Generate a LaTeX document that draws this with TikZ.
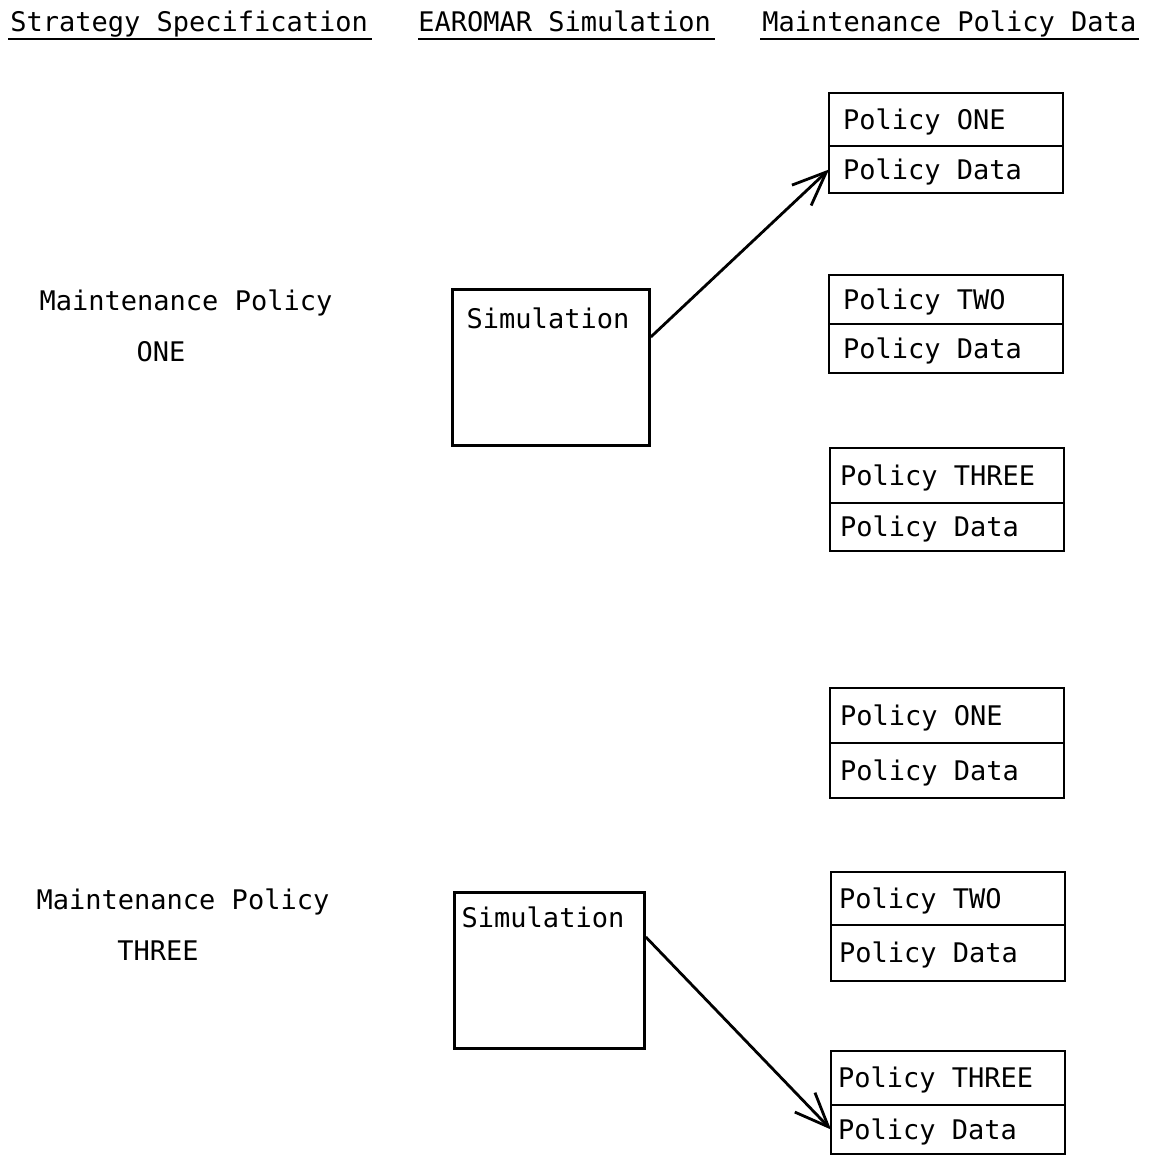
\documentclass[tikz,border=0pt]{standalone}
\usepackage{fontspec}
\newfontfamily\tw{DejaVu Sans Mono}
\usetikzlibrary{arrows.meta}
\newcommand{\cell}[2][7pt]{\hspace*{#1}\makebox[\dimexpr117pt-#1\relax][l]{#2}}
\begin{document}
\begin{tikzpicture}[x=0.5pt,y=-0.5pt,
  every node/.style={font=\tw\fontsize{13.5pt}{16pt}\selectfont},
  txt/.style={inner sep=0pt},
  head/.style={inner sep=0pt, anchor=base west},
  ulin/.style={line width=1.3pt},
  upper/.style={draw, line width=1.4pt, outer sep=0pt, anchor=north west, minimum width=117pt, inner sep=0pt, text height=9.8pt, text depth=0pt},
  sim/.style={draw, line width=1.4pt, anchor=north west, inner sep=0pt},
  conn/.style={line width=1.4pt, -{Straight Barb[length=17pt,width=14pt,line width=1.4pt]}}
]
\useasboundingbox (0,0) rectangle (1150,1156);
% headers
\node[head] (h1) at (10,32) {Strategy Specification};
\node[head] (h2) at (418,32) {EAROMAR Simulation};
\node[head] (h3) at (762,32) {Maintenance Policy Data};
\draw[ulin] ([yshift=-3.5pt,xshift=-1pt]h1.base west) -- ([yshift=-3.5pt,xshift=2pt]h1.base east);
\draw[ulin] ([yshift=-3.5pt]h2.base west) -- ([yshift=-3.5pt,xshift=2pt]h2.base east);
\draw[ulin] ([yshift=-3.5pt,xshift=-1pt]h3.base west) -- ([yshift=-3.5pt,xshift=1pt]h3.base east);
% left labels
\node[txt, anchor=base] (l1a) at (186,310) {Maintenance Policy};
\node[txt, anchor=base] (l1b) at (161,361) {ONE};
\node[txt, anchor=base] (l2a) at (183,909) {Maintenance Policy};
\node[txt, anchor=base] (l2b) at (158,960) {THREE};
% simulation boxes
\node[sim, minimum width=98.5pt, minimum height=78pt] (sim1) at (451,288) {};
\node[txt, anchor=base] (sim1t) at (548,328) {Simulation};
\node[sim, minimum width=95pt, minimum height=78pt] (sim2) at (453,891) {};
\node[txt, anchor=base] (sim2t) at (543,927) {Simulation};
% policy boxes
\node[upper, minimum height=26.5pt] (p1n) at (829,93) {\cell{Policy ONE}};
\node[upper, minimum height=23.5pt] (p1d) at (p1n.south west) {\cell{Policy Data}};
\node[upper, minimum height=24.5pt] (p2n) at (829,275) {\cell{Policy TWO}};
\node[upper, minimum height=24.5pt] (p2d) at (p2n.south west) {\cell{Policy Data}};
\node[upper, minimum height=27.5pt] (p3n) at (830,448) {\cell[5pt]{Policy THREE}};
\node[upper, minimum height=24pt] (p3d) at (p3n.south west) {\cell[5pt]{Policy Data}};
\node[upper, minimum height=27.5pt] (p4n) at (830,688) {\cell[5pt]{Policy ONE}};
\node[upper, minimum height=27.5pt] (p4d) at (p4n.south west) {\cell[5pt]{Policy Data}};
\node[upper, minimum height=26.5pt] (p5n) at (831,872) {\cell[4pt]{Policy TWO}};
\node[upper, minimum height=28pt] (p5d) at (p5n.south west) {\cell[4pt]{Policy Data}};
\node[upper, minimum height=27pt] (p6n) at (831,1051) {\cell[3.5pt]{Policy THREE}};
\node[upper, minimum height=24.5pt] (p6d) at (p6n.south west) {\cell[3.5pt]{Policy Data}};
% connectors
\draw[conn] ([yshift=-24.5pt]sim1.north east) -- (p1d.west);
\draw[conn] ([yshift=-23pt]sim2.north east) -- (p6d.west);
\end{tikzpicture}
\end{document}
